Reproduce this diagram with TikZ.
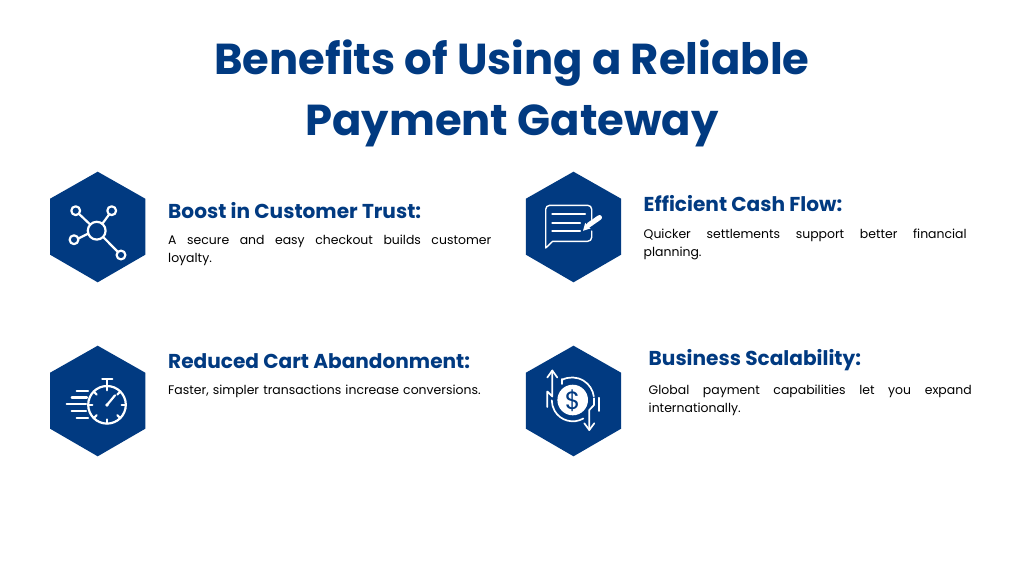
\documentclass[tikz,border=0pt]{standalone}
\usepackage{fontspec}
\usetikzlibrary{calc}
\setmainfont{Poppins}
\definecolor{navy}{HTML}{013A81}
\tikzset{
  hexa/.style={fill=navy,draw=none},
  ttl/.style={text=navy,font=\fontsize{43.3}{60}\selectfont\bfseries,align=center,inner sep=0pt,anchor=base},
  head/.style={text=navy,font=\fontsize{20.1}{24}\selectfont\bfseries,inner sep=0pt,anchor=base west},
  body/.style={text=black,font=\fontsize{12.45}{18}\selectfont,inner sep=0pt,anchor=north west,text width=323pt,align=left},
  ico/.style={draw=white,line width=2.2pt,line cap=round,line join=round},
  thin/.style={draw=white,line width=1.7pt,line cap=round,line join=round}
}
\newcommand{\hexat}[2]{\fill[hexa] (#1,#2-55.3) -- (#1+47.6,#2-28.3) -- (#1+47.6,#2+27.7) -- (#1,#2+55.3) -- (#1-47.6,#2+27.7) -- (#1-47.6,#2-28.3) -- cycle;}
\newcommand{\spreadline}[1]{\hbox to 323pt{#1}\\}
\begin{document}
\begin{tikzpicture}[x=1pt,y=-1pt]
\useasboundingbox (0,0) rectangle (1024,576);
\fill[white] (0,0) rectangle (1024,576);
\node[ttl] (t1) at (512,74.5) {Benefits of Using a Reliable};
\node[ttl] (t2) at (512,135) {Payment Gateway};

\hexat{97.7}{227}
\hexat{573.5}{227}
\hexat{97.7}{401}
\hexat{573.5}{401}

\node[head] (h1) at (168,218) {Boost in Customer Trust:};
\node[body] (b1) at (168,234.5) {\spreadline{A \hfill secure \hfill and \hfill easy \hfill checkout \hfill builds \hfill customer}loyalty.};
\node[head] (h2) at (643.5,211) {Efficient Cash Flow:};
\node[body] (b2) at (643.5,229) {\spreadline{Quicker \hfill settlements \hfill support \hfill better \hfill financial}planning.};
\node[head] (h3) at (168,368) {Reduced Cart Abandonment:};
\node[body] (b3) at (168,384.5) {Faster, simpler transactions increase conversions.};
\node[head] (h4) at (648.5,365) {Business Scalability:};
\node[body] (b4) at (648.5,385) {\spreadline{Global \hfill payment \hfill capabilities \hfill let \hfill you \hfill expand}internationally.};

% icon 1
\begin{scope}[ico]
\draw (96.7,230.7) circle (8.9);
\draw (75.7,210.7) circle (4.4);
\draw (111.7,210.7) circle (4.4);
\draw (74,239.7) circle (4.4);
\draw (121,255) circle (4.4);
\draw (78.9,213.8) -- (90.4,224.7);
\draw (109.2,214.4) -- (102.2,223.9);
\draw (78.3,238.5) -- (88.3,233.5);
\draw (102.9,236.8) -- (117.9,251.9);
\end{scope}

% icon 2
\draw[thin,line width=1.4pt] (591.7,219.5) -- (591.7,209.3) arc (0:-90:4) -- (549.7,205.3) arc (-90:-180:4) -- (545.7,248) -- (552.7,241.3) -- (587.7,241.3) arc (90:0:4) -- (591.7,231);
\draw[ico] (552.3,214) -- (585,214);
\draw[ico] (552.3,222.7) -- (580,222.7);
\draw[ico] (552.3,231.3) -- (580,231.3);
\draw[white,line width=5pt,line cap=round] (589,224.8) -- (599.5,217.5);
\fill[white] (583,230.8) -- (585.2,222.8) -- (590.6,228.4) -- cycle;

% icon 3
\begin{scope}[ico]
\draw (107,404.8) circle (18.8);
\draw (107.3,379.6) -- (107.3,386);
\draw (102.3,379.3) -- (112.3,379.3);
\draw (107,405) -- (115,395.3);
\fill[white] (107,405) circle (1.8);
\foreach \a in {0,45,90,135,180,225,270,315}
  \draw ($(107,404.8)+(\a:18.8)$) -- ($(107,404.8)+(\a:14.6)$);
\draw (76.7,391) -- (88,391);
\draw (71.7,397.5) -- (87,397.5);
\draw (66.7,404.3) -- (86,404.3);
\draw (71.7,411) -- (86,411);
\draw (76.7,417.7) -- (88,417.7);
\end{scope}

% icon 4
\fill[white] (572.7,400) circle (15.3);
\node[text=navy,font=\fontsize{25}{25}\selectfont,inner sep=0pt] (d) at (572.7,400.5) {\$};
\begin{scope}[thin]
\draw (561.7,379) -- (561.7,384);
\draw (561.7,380) arc (-118:-8:22);
\draw (583.3,418.5) arc (60:180:21);
\draw (552.3,370.5) -- (552.3,396.5) -- (547.3,391.5) -- (547.3,407);
\draw (557.3,377.5) -- (552.3,370.5) -- (547.3,377.5);
\draw (589.3,430) -- (589.3,410) -- (594,405) -- (594,398.3);
\draw (584.3,423.3) -- (589.3,430) -- (594.3,423.3);
\draw (599,397.7) -- (599,411);
\end{scope}
\end{tikzpicture}
\end{document}
